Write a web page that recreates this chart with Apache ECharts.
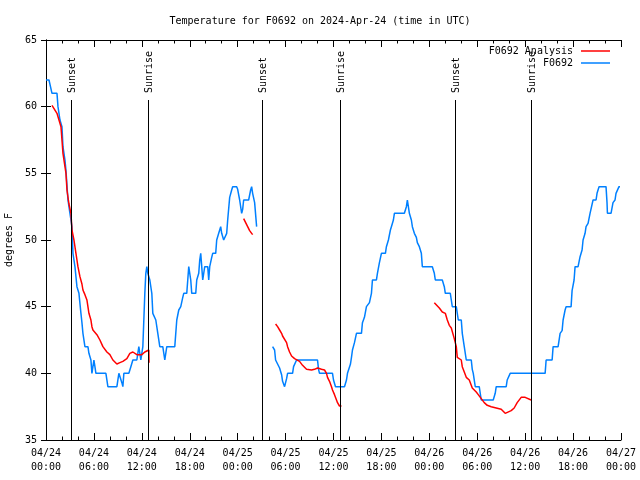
<!DOCTYPE html>
<html>
<head>
<meta charset="utf-8">
<script src="https://cdn.jsdelivr.net/npm/echarts@6/dist/echarts.min.js"></script>
<style>html,body{margin:0;padding:0;background:#fff}#c{width:640px;height:480px}</style>
</head>
<body>
<div id="c"></div>
<script>
// hours since 2024-04-24 00:00 UTC, temperature in F; null = gap
const obsData = [
[0,62],[0.375,62],[0.75,61],[1.375,61],[1.5,60],[1.75,59],[2,58.5],[2.125,57],[2.375,56],[2.5,55.2],
[2.75,53],[3,52],[3.25,51],[3.375,49],[3.625,48],[3.875,46.5],[4.125,46],[4.375,44.5],[4.5,43.8],[4.625,43],
[4.875,42],[5.25,42],[5.375,41.5],[5.625,41],[5.75,40],[6,41],[6.125,40.5],[6.25,40],[7.5,40],[7.75,39],
[8.875,39],[9.125,40],[9.375,40],[9.5,39.3],[9.625,39],[9.75,40],[10.375,40],[10.625,40.5],[10.875,41],[11.375,41],
[11.625,42],[11.75,42],[11.875,41],[12.125,42],[12.25,44],[12.375,46],[12.5,47.5],[12.625,48],[12.75,47.5],[13,47],
[13.25,46],[13.375,44.5],[13.75,44],[14,43],[14.25,42],[14.625,42],[14.875,41],[15.125,42],[16.125,42],[16.375,44],
[16.625,44.75],[16.875,45],[17.125,45.7],[17.25,46],[17.625,46],[17.75,47],[17.875,48],[18.125,47],[18.25,46],[18.75,46],
[18.875,47],[19.125,47.5],[19.25,48.5],[19.375,49],[19.5,48],[19.625,47],[19.875,48],[20.25,48],[20.375,47],[20.5,48],
[20.75,48.7],[20.875,49],[21.25,49],[21.375,50],[21.625,50.5],[21.875,51],[22,50.5],[22.25,50],[22.375,50],[22.625,50.5],
[22.75,51.5],[23,53.2],[23.25,53.75],[23.375,54],[23.875,54],[24,53.8],[24.25,53],[24.5,52],[24.625,52.3],[24.75,53],
[25.375,53],[25.625,53.75],[25.75,54],[25.875,53.5],[26.125,52.8],[26.375,51],
null,
[28.375,42],[28.625,41.75],[28.75,41],[29,41],[29.25,40.4],[29.5,39.9],[29.625,39.4],[29.875,39],[30.125,39.6],[30.25,40],
[30.875,40],[31,40.5],[31.375,41],[34,41],[34.125,40.3],[34.25,40],[35.875,40],[36,39.5],[36.25,39],[37.375,39],
[37.625,39.5],[37.75,40],[37.875,40],[38.125,40.7],[38.25,41.2],[38.375,41.75],[38.625,42.3],[38.875,43],[39.5,43],[39.625,43.8],
[39.875,44.2],[40.125,45],[40.5,45.3],[40.75,46],[40.875,47],[41.375,47],[41.5,47.5],[41.75,48.3],[42,49],[42.5,49],
[42.625,49.5],[42.875,50],[43.125,50.75],[43.25,51],[43.5,51.5],[43.625,52],[44.875,52],[45.125,52.5],[45.25,53],[45.375,52.5],
[45.5,52],[45.75,51.5],[45.875,51],[46.125,50.5],[46.375,50.2],[46.5,49.8],[46.75,49.5],[47,49],[47.125,48],[48.375,48],
[48.625,47.5],[48.75,47],[49.625,47],[49.875,46.5],[50,46],[50.625,46],[50.75,45.5],[50.875,45],[51.375,45],[51.625,44],
[52,44],[52.125,43],[52.375,42],[52.625,41],[53.25,41],[53.375,40.3],[53.5,40],[53.75,39],[54.25,39],[54.5,38],
[56,38],[56.25,38.5],[56.375,39],[57.625,39],[57.75,39.5],[58.125,40],[62.5,40],[62.625,41],[63.375,41],[63.5,42],
[64.125,42],[64.375,43],[64.625,43.2],[64.75,44],[65,44.75],[65.125,45],[65.75,45],[65.875,46.2],[66.125,47],[66.25,48],
[66.625,48],[66.875,48.75],[67.125,49.25],[67.25,50],[67.5,50.5],[67.625,51],[67.875,51.25],[68.125,52],[68.375,52],[68.5,53],
[68.875,53],[69,53.5],[69.25,54],[70.125,54],[70.25,52.8],[70.3,52],[70.75,52],[71,52.8],[71.25,53],[71.375,53.5],
[71.75,54],[71.875,54]
];
const analysisData = [
[0.75,60.1],[1,60],[1.375,59.5],[1.625,59],[1.875,58.5],[2,57.5],[2.125,56.5],[2.375,55.5],[2.5,55],[2.625,53.75],
[2.875,52.7],[3.125,52],[3.25,50.75],[3.5,50],[3.75,49],[3.875,48.5],[4,48],[4.25,47.25],[4.5,46.7],[4.625,46.25],
[4.875,45.9],[5.125,45.5],[5.25,45],[5.375,44.5],[5.625,44],[5.75,43.5],[5.875,43.25],[6.375,42.9],[6.75,42.5],[7.125,42],
[7.625,41.6],[8,41.4],[8.375,41],[8.875,40.7],[9.25,40.8],[9.625,40.9],[10.125,41.1],[10.5,41.5],[10.875,41.6],[11.375,41.4],
[11.625,41.25],[12,41.4],[12.375,41.6],[12.625,41.75],[12.875,41.75],[12.9,40.8],
null,
[24.75,51.6],[25,51.5],[25.25,51],[25.5,50.7],[25.75,50.5],[25.875,50.4],
null,
[28.75,43.7],[29,43.5],[29.25,43.25],[29.5,43],[29.625,42.8],[29.875,42.7],[30.125,42.3],[30.25,42],[30.5,41.6],[30.75,41.3],
[30.875,41.2],[31.125,41.1],[31.375,41],[31.75,40.9],[32.125,40.6],[32.625,40.3],[32.75,40.2],[33.25,40.25],[33.625,40.3],[34,40.4],
[34.5,40.3],[34.875,40.25],[35.125,40],[35.25,39.7],[35.5,39.4],[35.75,39],[35.875,38.75],[36.125,38.4],[36.375,38],[36.5,37.8],
[36.75,37.55],[37,37.55],
null,
[48.625,45.3],[48.875,45.2],[49.25,44.9],[49.625,44.6],[50,44.5],[50.25,44],[50.5,43.6],[50.75,43.4],[51,43.3],[51.125,42.6],
[51.375,42],[51.5,41.2],[51.75,41.1],[52,41],[52.125,40.5],[52.375,40.1],[52.625,39.7],[52.75,39.6],[53,39.5],[53.25,39.1],
[53.375,38.9],[53.625,38.75],[53.875,38.6],[54.125,38.4],[54.5,38.1],[54.875,37.8],[55.25,37.6],[55.75,37.5],[56.375,37.4],[57,37.3],
[57.5,37],[57.75,36.9],[58.25,37.2],[58.625,37.4],[59,37.8],[59.5,38.2],[59.625,38.3],[60,38.2],[60.25,38.1],[60.75,38]
];
const sunHours = [3.17, 12.8, 27.05, 36.8, 51.2, 60.7];
const sunLabels = ['Sunset', 'Sunrise', 'Sunset', 'Sunrise', 'Sunset', 'Sunrise'];
const sunLineTop = 60.5;
const yTicks = {min: 35, max: 65, step: 5};
const xTicks = {min: 0, max: 72, step: 6};
const startMonth = '04', startDay = 24;

const FONT = 'DejaVu Sans Mono';
function withGaps(arr) {
  const out = [];
  let last = 0;
  arr.forEach(p => {
    if (p === null) out.push([last, '-']);
    else { out.push(p); last = p[0]; }
  });
  return out;
}
function pad(n) { return (n < 10 ? '0' : '') + n; }
function xLabel(h) {
  const d = startDay + Math.floor(h / 24);
  const hh = h % 24;
  return startMonth + '/' + pad(d) + '\n' + pad(hh) + ':00';
}
const axisCommon = {
  axisLine: {lineStyle: {color: '#000', width: 1}},
  splitLine: {show: false}
};
const chart = echarts.init(document.getElementById('c'), null, {renderer: 'canvas'});
chart.setOption({
  animation: false,
  backgroundColor: '#fff',
  textStyle: {fontFamily: FONT},
  title: {
    text: 'Temperature for F0692 on 2024-Apr-24 (time in UTC)',
    left: 'center', top: 11,
    textStyle: {fontFamily: FONT, fontSize: 10, fontWeight: 'normal', color: '#000'}
  },
  legend: [
    {data: ['F0692 Analysis'], right: 30, top: 46, padding: 0, align: 'right', icon: 'rect',
     itemWidth: 29, itemHeight: 1.5, textStyle: {fontFamily: FONT, fontSize: 10, color: '#000', padding: [0, 3, 0, 0]}},
    {data: ['F0692'], right: 30, top: 58, padding: 0, align: 'right', icon: 'rect',
     itemWidth: 29, itemHeight: 1.5, textStyle: {fontFamily: FONT, fontSize: 10, color: '#000', padding: [0, 3, 0, 0]}}
  ],
  grid: {left: 46, right: 19, top: 40, bottom: 40, containLabel: false, outerBoundsMode: 'none'},
  xAxis: [
    Object.assign({}, axisCommon, {
      type: 'value', min: xTicks.min, max: xTicks.max, interval: xTicks.step, position: 'bottom',
      axisTick: {inside: true, length: 7, lineStyle: {color: '#000'}},
      minorTick: {show: true, splitNumber: 3, length: 3.5, lineStyle: {color: '#000'}},
      axisLabel: {formatter: xLabel, fontFamily: FONT, fontSize: 10, color: '#000', lineHeight: 14, margin: 6, showMaxLabel: true, showMinLabel: true}
    }),
    Object.assign({}, axisCommon, {
      type: 'value', min: xTicks.min, max: xTicks.max, interval: xTicks.step, position: 'top',
      axisTick: {inside: true, length: 7, lineStyle: {color: '#000'}},
      minorTick: {show: true, splitNumber: 3, length: 3.5, lineStyle: {color: '#000'}},
      axisLabel: {show: false}
    })
  ],
  yAxis: [
    Object.assign({}, axisCommon, {
      type: 'value', min: yTicks.min, max: yTicks.max, interval: yTicks.step, position: 'left',
      axisTick: {inside: true, length: 5, lineStyle: {color: '#000'}},
      axisLabel: {fontFamily: FONT, fontSize: 10, color: '#000', margin: 9},
      name: 'degrees F', nameLocation: 'middle', nameGap: 28,
      nameTextStyle: {fontFamily: FONT, fontSize: 10, color: '#000'}
    }),
    Object.assign({}, axisCommon, {
      type: 'value', min: yTicks.min, max: yTicks.max, interval: yTicks.step, position: 'right',
      axisTick: {inside: true, length: 5, lineStyle: {color: '#000'}},
      axisLabel: {show: false}
    })
  ],
  series: [
    {
      name: 'F0692 Analysis', type: 'line', data: withGaps(analysisData),
      showSymbol: false, symbol: 'none', connectNulls: false, z: 4,
      lineStyle: {color: '#ff0000', width: 1.5}, itemStyle: {color: '#ff0000'}
    },
    {
      name: 'F0692', type: 'line', data: withGaps(obsData),
      showSymbol: false, symbol: 'none', connectNulls: false, z: 3,
      lineStyle: {color: '#0080ff', width: 1.5}, itemStyle: {color: '#0080ff'}
    },
    {
      type: 'custom', z: 5, silent: true,
      data: sunHours.map((h, i) => [h, sunLineTop, i]),
      renderItem: function (params, api) {
        const h = api.value(0);
        const p0 = api.coord([h, yTicks.min]);
        const p1 = api.coord([h, api.value(1)]);
        const x = Math.round(p0[0]) + 0.5;
        return {
          type: 'group',
          children: [
            {type: 'line', shape: {x1: x, y1: p0[1], x2: x, y2: p1[1]}, style: {stroke: '#000', lineWidth: 1}},
            {type: 'text', x: x + 1, y: p1[1] - 7, rotation: Math.PI / 2,
             style: {text: sunLabels[api.value(2)], font: '10px ' + FONT, fill: '#000', align: 'left', verticalAlign: 'middle'}}
          ]
        };
      }
    }
  ]
});
</script>
</body>
</html>
